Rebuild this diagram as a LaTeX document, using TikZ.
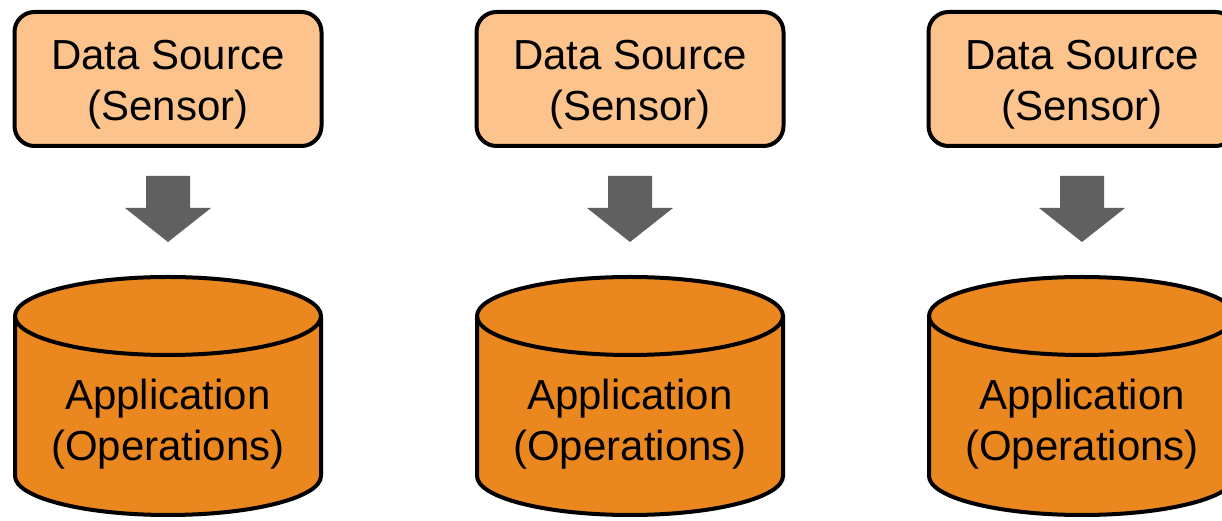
\documentclass[tikz,border=0pt]{standalone}
\usepackage{fontspec}
\setmainfont{Liberation Sans}
\usetikzlibrary{calc}
\definecolor{srcfill}{HTML}{FDC38D}
\definecolor{appfill}{HTML}{EA871E}
\definecolor{arrgray}{HTML}{606060}
\tikzset{
  srcbox/.style={draw=black, fill=srcfill, line width=4pt, rounded corners=20pt,
    minimum width=307pt, minimum height=134pt, inner sep=0pt, outer sep=0pt,
    align=center, font=\fontsize{42}{51}\selectfont},
  apptext/.style={inner sep=0pt, outer sep=0pt, align=center,
    font=\fontsize{42}{51}\selectfont},
  cylbody/.style={draw=black, fill=appfill, line width=4pt},
  cylrim/.style={draw=black, line width=4pt},
  flowarrow/.style={fill=arrgray},
}
\begin{document}
\begin{tikzpicture}[x=1pt,y=1pt]
\useasboundingbox (0,0) rectangle (1222,521);
\clip (0,0) rectangle (1222,521);
\foreach \i/\cx in {1/168,2/630,3/1082}{
  \node[srcbox] (s\i) at (\cx,442) {\rule{0pt}{40pt}Data Source\\(Sensor)};
  \path[cylbody] (\cx-153,205) -- (\cx-153,45)
    arc[start angle=180, end angle=360, x radius=153pt, y radius=39pt]
    -- (\cx+153,205)
    arc[start angle=0, end angle=180, x radius=153pt, y radius=39pt] -- cycle;
  \path[cylrim] (\cx-153,205)
    arc[start angle=180, end angle=360, x radius=153pt, y radius=39pt];
  \node[apptext] (a\i) at (\cx,96.5) {Application\\(Operations)};
  \fill[flowarrow] ($(s\i.south)+(-22,-30)$) -- ++(44,0) -- ++(0,-32) -- ++(21,0)
    -- ($(s\i.south)+(0,-96)$) -- ++(-43,34) -- ++(21,0) -- cycle;
}
\end{tikzpicture}
\end{document}
